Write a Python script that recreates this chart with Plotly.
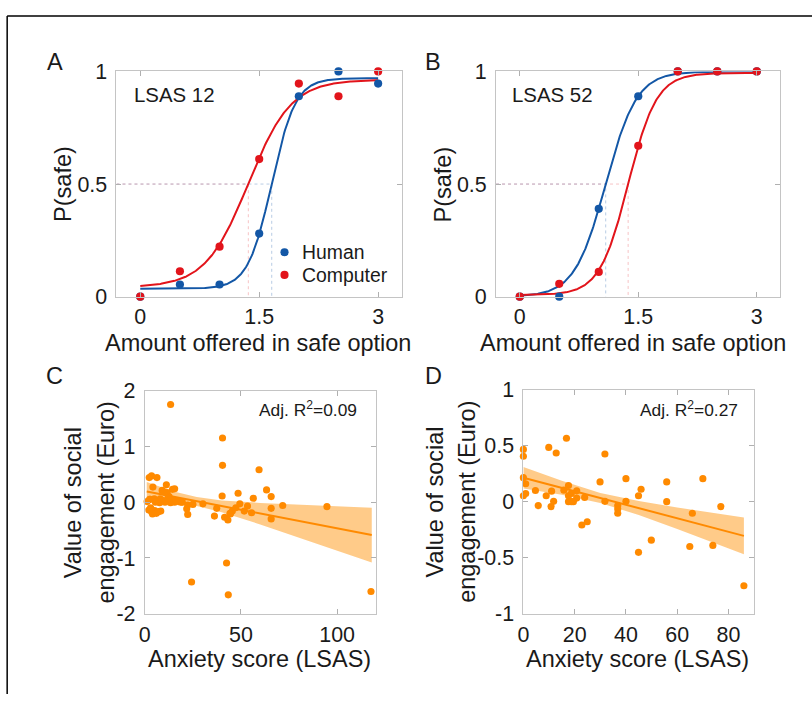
import numpy as np
import plotly.graph_objects as go

# ---------------- data ----------------
amounts = [0, 0.5, 1, 1.5, 2, 2.5, 3]
# Panel A (LSAS 12)
a_human = [0.0, 0.054, 0.054, 0.28, 0.89, 1.0, 0.946]
a_computer = [0.0, 0.113, 0.222, 0.611, 0.946, 0.89, 1.0]
# fitted psychometric parameters: midpoint, slope, guess, lapse
a_human_fit = dict(m=1.658, s=0.15, g=0.035, l=0.03)
a_computer_fit = dict(m=1.363, s=0.27, g=0.042, l=0.037)
# Panel B (LSAS 52)
b_human = [0.0, 0.0, 0.39, 0.89, 1.0, 1.0, 1.0]
b_computer = [0.0, 0.057, 0.11, 0.67, 1.0, 1.0, 1.0]
b_human_fit = dict(m=1.088, s=0.197, g=0.0, l=0.0)
b_computer_fit = dict(m=1.372, s=0.18, g=0.007, l=0.007)

# Panel C scatter
c_lsas = [13.4, 40.4, 40.4, 59.4, 2.3, 3.5, 6.3, 4.2, 11.2, 9.0, 14.4, 15.5, 11.6, 12.6,
          63.3, 48.5, 40.2, 65.7, 56.4, 1.2, 2.8, 4.9, 6.0, 9.5, 7.7, 13.4, 15.5, 17.6,
          18.8, 25.0, 30.2, 22.3, 21.8, 22.3, 2.1, 3.5, 5.1, 4.0, 6.0, 8.3, 37.4, 36.2,
          41.5, 43.2, 44.3, 45.5, 47.3, 49.4, 51.7, 53.4, 55.5, 65.7, 65.7, 71.7, 94.7,
          42.5, 24.3, 43.4, 117.6, 10.0, 8.0, 10.5, 14.0, 16.0, 5.5, 3.0, 7.0, 12.0,
          19.5, 2.5, 44.5]
c_value = [1.75, 1.15, 0.66, 0.58, 0.44, 0.47, 0.44, 0.27, 0.31, 0.21, 0.23, 0.24, 0.17, 0.10,
           0.22, 0.16, 0.11, 0.10, 0.07, 0.01, 0.05, 0.06, 0.02, 0.03, -0.01, -0.01, 0.0, 0.01,
           0.0, -0.04, -0.03, -0.05, -0.12, -0.22, -0.14, -0.17, -0.15, -0.21, -0.20, -0.16, -0.11, -0.25,
           -0.27, -0.32, -0.20, -0.16, -0.10, -0.03, -0.16, -0.07, -0.19, -0.11, -0.30, -0.06, -0.08,
           -1.09, -1.43, -1.66, -1.60, 0.18, 0.06, 0.0, 0.04, 0.02, 0.0, -0.10, -0.17, 0.07,
           0.0, 0.05, -0.21]
# Panel C regression line and 95% band
c_fit_x = [1, 118]
c_fit_y = [0.19, -0.589]
c_band_x = [1, 15, 27, 40, 60, 80, 100, 118]
c_band_lo = [0.03, -0.011, -0.068, -0.18, -0.399, -0.631, -0.866, -1.079]
c_band_hi = [0.36, 0.193, 0.092, 0.032, -0.013, -0.045, -0.074, -0.099]

# Panel D scatter
d_lsas = [0, 0, 0, 0.9, 0, 0.9, 9.9, 12.8, 16.8, 4.7, 5.8, 8.9, 11, 10.8, 11.8, 15.8, 17.6, 17.6,
          18.7, 17.6, 18.7, 19.5, 20.8, 20.8, 23.9, 22.8, 24.9, 29.9, 31.8, 31.8, 36.8, 36.8, 36.8,
          40, 40, 44.9, 45.9, 44.9, 49.9, 55.9, 55.9, 64.9, 65.9, 70, 73.9, 77, 86]
d_value = [0.466, 0.405, 0.214, 0.16, 0.053, 0.073, 0.484, 0.434, 0.566, 0.10, -0.035, 0.053, 0.094,
           -0.044, 0.003, 0.103, 0.144, 0.053, 0.073, 0.0, 0.0, 0.0, 0.097, 0.032, 0.038, -0.208,
           -0.179, 0.176, 0.425, 0.003, -0.035, -0.065, -0.103, 0.205, 0.003, 0.053, 0.111, -0.452,
           -0.343, 0.176, 0.0, -0.40, -0.103, 0.205, -0.39, -0.044, -0.75]
d_fit_x = [0, 86]
d_fit_y = [0.214, -0.305]
d_band_x = [0, 15, 30, 45, 60, 75, 86]
d_band_lo = [0.118, 0.062, -0.012, -0.119, -0.244, -0.372, -0.469]
d_band_hi = [0.31, 0.186, 0.078, 0.005, -0.052, -0.104, -0.141]

c_r2_text = "Adj. R<sup>2</sup>=0.09"
d_r2_text = "Adj. R<sup>2</sup>=0.27"

# ---------------- style ----------------
BLUE = "#1357a6"
RED = "#e2141b"
ORANGE = "#ff8a00"
BAND = "rgba(255,160,40,0.55)"
FONT = "Liberation Sans, Arial, Helvetica, sans-serif"
TXT = "#1a1a1a"
W, H = 812, 707
# the page keeps its default 8px body margin and is shown slightly reduced;
# target-pixel positions are converted to figure positions accordingly
BODY_M = 8
SX, SY = (W + 2 * BODY_M) / W, (H + 2 * BODY_M) / H
K = (SX + SY) / 2  # size compensation


def px_x(p):
    return (p * SX - BODY_M) / W


def px_y(p):
    return 1 - (p * SY - BODY_M) / H


def fs(s):
    return round(s * K, 2)


def psych(x, m, s, g, l):
    return g + (1 - g - l) / (1 + np.exp(-(x - m) / s))


fig = go.Figure()

domains = {
    "A": ([px_x(117), px_x(399)], [px_y(297), px_y(69)]),
    "B": ([px_x(492), px_x(773)], [px_y(297), px_y(69)]),
    "C": ([px_x(145), px_x(373)], [px_y(618), px_y(392)]),
    "D": ([px_x(519), px_x(747)], [px_y(618), px_y(391)]),
}
axes_ids = {"A": ("x", "y"), "B": ("x2", "y2"), "C": ("x3", "y3"), "D": ("x4", "y4")}

# ---- panels A and B ----
xs = np.linspace(0, 3, 300)
for key, hum, comp, hf, cf in [("A", a_human, a_computer, a_human_fit, a_computer_fit),
                               ("B", b_human, b_computer, b_human_fit, b_computer_fit)]:
    xa, ya = axes_ids[key]
    for fit, col in [(hf, "rgba(19,87,166,0.3)"), (cf, "rgba(226,20,27,0.25)")]:
        fig.add_trace(go.Scatter(x=[-0.3, fit["m"], fit["m"]], y=[0.5, 0.5, 0],
                                 mode="lines", line=dict(color=col, width=1, dash="dot"),
                                 xaxis=xa, yaxis=ya, showlegend=False, hoverinfo="skip"))
    fig.add_trace(go.Scatter(x=xs, y=psych(xs, **hf), mode="lines",
                             line=dict(color=BLUE, width=2), xaxis=xa, yaxis=ya,
                             showlegend=False))
    fig.add_trace(go.Scatter(x=xs, y=psych(xs, **cf), mode="lines",
                             line=dict(color=RED, width=2), xaxis=xa, yaxis=ya,
                             showlegend=False))
    fig.add_trace(go.Scatter(x=amounts, y=hum, mode="markers", name="Human",
                             marker=dict(color=BLUE, size=fs(8)), xaxis=xa, yaxis=ya,
                             cliponaxis=False, showlegend=False))
    fig.add_trace(go.Scatter(x=amounts, y=comp, mode="markers", name="Computer",
                             marker=dict(color=RED, size=fs(8)), xaxis=xa, yaxis=ya,
                             cliponaxis=False, showlegend=False))

# ---- panels C and D ----
for key, xv, yv, fx, fy, bx, blo, bhi in [
        ("C", c_lsas, c_value, c_fit_x, c_fit_y, c_band_x, c_band_lo, c_band_hi),
        ("D", d_lsas, d_value, d_fit_x, d_fit_y, d_band_x, d_band_lo, d_band_hi)]:
    xa, ya = axes_ids[key]
    fig.add_trace(go.Scatter(x=list(bx) + list(bx)[::-1],
                             y=list(bhi) + list(blo)[::-1],
                             fill="toself", fillcolor=BAND, line=dict(width=0),
                             mode="lines", xaxis=xa, yaxis=ya, showlegend=False,
                             hoverinfo="skip"))
    fig.add_trace(go.Scatter(x=fx, y=fy, mode="lines", line=dict(color=ORANGE, width=2),
                             xaxis=xa, yaxis=ya, showlegend=False))
    fig.add_trace(go.Scatter(x=xv, y=yv, mode="markers",
                             marker=dict(color=ORANGE, size=fs(7)), xaxis=xa, yaxis=ya,
                             cliponaxis=False, showlegend=False))

axis_common = dict(showline=True, mirror="allticks", linecolor="#c4c4c4", linewidth=1,
                   ticks="inside", ticklen=5, tickcolor="#b0b0b0", showgrid=False,
                   zeroline=False, tickfont=dict(size=fs(21), color=TXT, family=FONT))

specs = {
    "A": dict(xr=[-0.3, 3.3], xt=[0, 1.5, 3], xl=["0", "1.5", "3"],
              yr=[0, 1], yt=[0, 0.5, 1], yl=["0", "0.5", "1"]),
    "B": dict(xr=[-0.3, 3.3], xt=[0, 1.5, 3], xl=["0", "1.5", "3"],
              yr=[0, 1], yt=[0, 0.5, 1], yl=["0", "0.5", "1"]),
    "C": dict(xr=[0, 120], xt=[0, 50, 100], xl=["0", "50", "100"],
              yr=[-2, 2], yt=[-2, -1, 0, 1, 2], yl=["-2", "-1", "0", "1", "2"]),
    "D": dict(xr=[0, 90], xt=[0, 20, 40, 60, 80], xl=["0", "20", "40", "60", "80"],
              yr=[-1, 1], yt=[-1, -0.5, 0, 0.5, 1], yl=["-1", "-0.5", "0", "0.5", "1"]),
}

layout_axes = {}
for i, key in enumerate(["A", "B", "C", "D"]):
    suf = "" if i == 0 else str(i + 1)
    sp = specs[key]
    dx, dy = domains[key]
    layout_axes["xaxis" + suf] = dict(axis_common, domain=dx, range=sp["xr"], tickvals=sp["xt"],
                                      ticktext=sp["xl"], anchor="y" + suf, ticklabelstandoff=1)
    layout_axes["yaxis" + suf] = dict(axis_common, domain=dy, range=sp["yr"], tickvals=sp["yt"],
                                      ticktext=sp["yl"], anchor="x" + suf, ticklabelstandoff=4)

annotations = []


def ann(text, x, y, size, angle=0, xanchor="center", yanchor="middle"):
    annotations.append(dict(text=text, x=px_x(x), y=px_y(y), xref="paper", yref="paper",
                            showarrow=False, textangle=angle, xanchor=xanchor, yanchor=yanchor,
                            font=dict(size=fs(size), color=TXT, family=FONT)))


# panel letters
ann("A", 56, 59, 23)
ann("B", 430, 59, 23)
ann("C", 56, 377, 23)
ann("D", 430, 377, 23)
# in-panel text
ann("LSAS 12", 174, 93, 20)
ann("LSAS 52", 548, 93, 20)
ann(c_r2_text, 306, 411, 17)
ann(d_r2_text, 683, 411, 17)
# legend text
ann("Human", 298, 252, 19, xanchor="left")
ann("Computer", 298, 275, 19, xanchor="left")
# axis titles
ann("Amount offered in safe option", 257, 344, 23)
ann("Amount offered in safe option", 627, 344, 23)
ann("P(safe)", 64, 183, 23, angle=-90)
ann("P(safe)", 440, 183, 23, angle=-90)
ann("Anxiety score (LSAS)", 258, 664, 23)
ann("Anxiety score (LSAS)", 632, 664, 23)
ann("Value of social", 74, 505, 23, angle=-90)
ann("engagement (Euro)", 107, 505, 23, angle=-90)
ann("Value of social", 432, 505, 23, angle=-90)
ann("engagement (Euro)", 463, 505, 23, angle=-90)

shapes = [
    dict(type="line", xref="paper", yref="paper", x0=px_x(9), x1=1, y0=px_y(13), y1=px_y(13),
         line=dict(color="black", width=1.5)),
    dict(type="line", xref="paper", yref="paper", x0=px_x(9), x1=px_x(9), y0=px_y(13), y1=0,
         line=dict(color="black", width=1.5)),
]
# legend symbols
r = fs(4)
for col, ypx in [(BLUE, 252), (RED, 275)]:
    shapes.append(dict(type="circle", xref="paper", yref="paper", xsizemode="pixel",
                       ysizemode="pixel", xanchor=px_x(283), yanchor=px_y(ypx),
                       x0=-r, x1=r, y0=-r, y1=r, fillcolor=col, line=dict(width=0)))

fig.update_layout(
    width=W, height=H, margin=dict(l=0, r=0, t=0, b=0),
    paper_bgcolor="white", plot_bgcolor="white",
    font=dict(family=FONT, color=TXT),
    showlegend=False,
    annotations=annotations, shapes=shapes,
    **layout_axes,
)

fig.write_html("out.html")
